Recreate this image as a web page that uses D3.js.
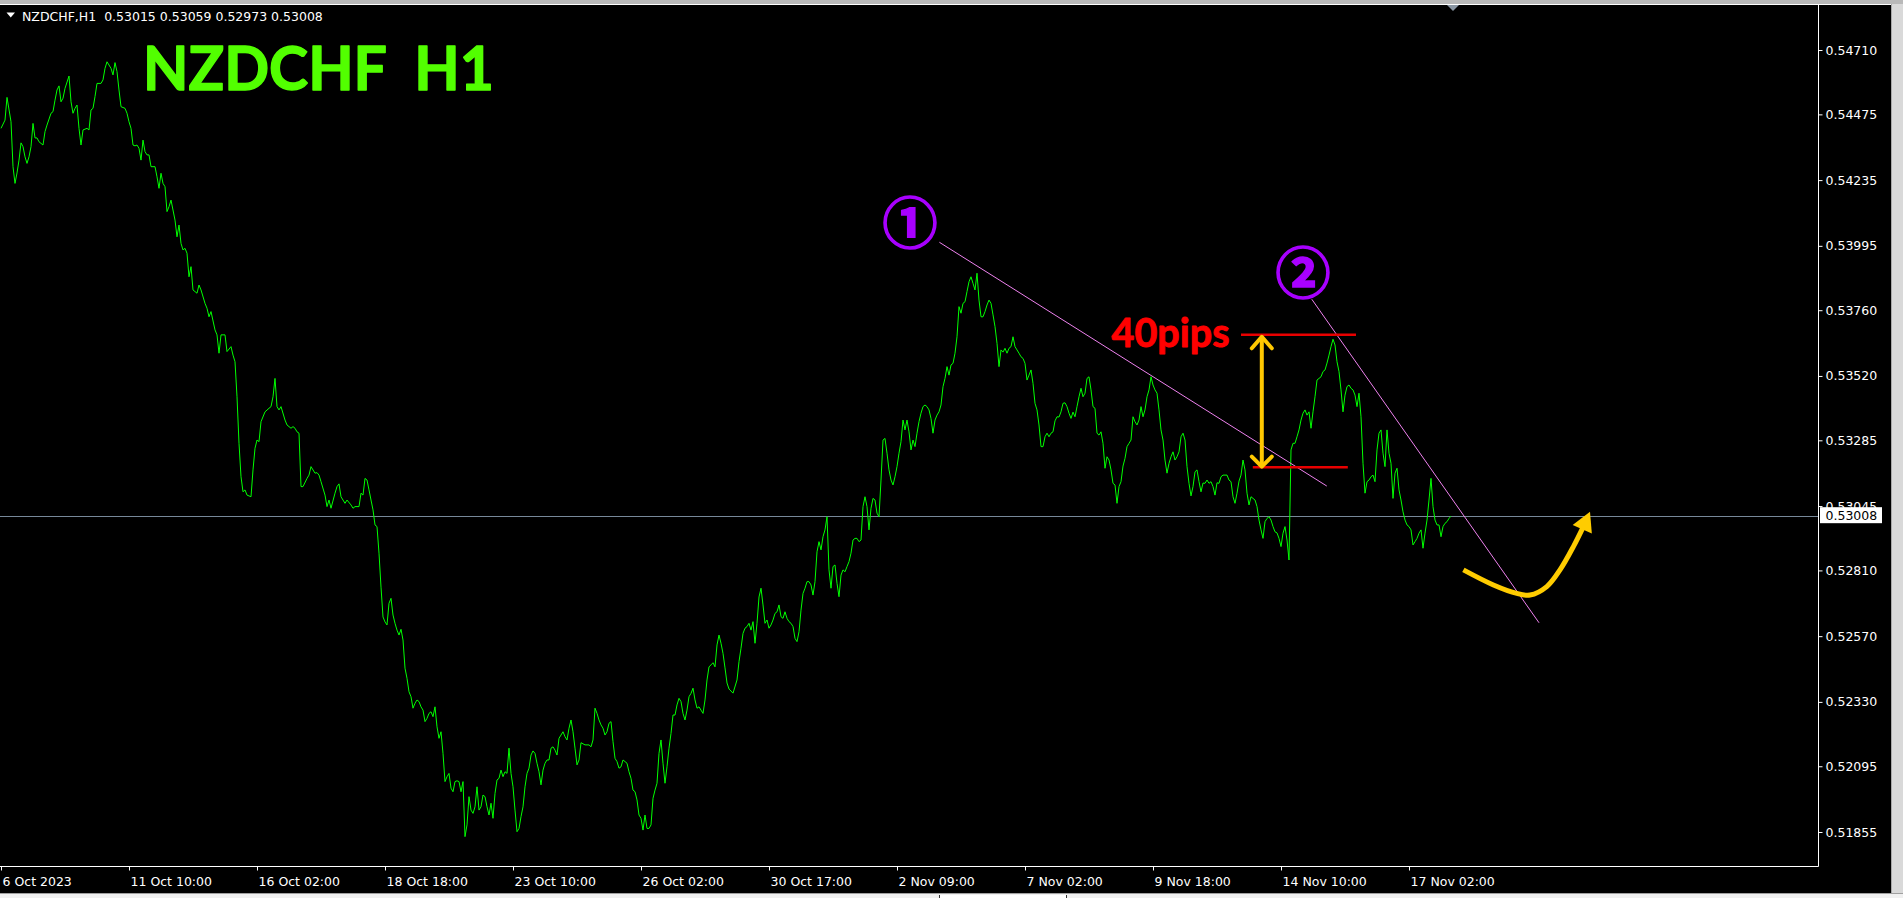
<!DOCTYPE html>
<html><head><meta charset="utf-8">
<script src="https://cdn.jsdelivr.net/npm/d3@7"></script>
<style>
html,body{margin:0;padding:0;background:#f0f0f0;overflow:hidden;}
svg{display:block;}
</style></head><body>
<svg id="chart" width="1903" height="898"></svg>
<script>
// ---------- data ----------
const headerText = "NZDCHF,H1  0.53015 0.53059 0.52973 0.53008";
const titleText = "NZDCHF  H1";
const pipsText = "40pips";
const lastPrice = 0.53008;

const yTicks = [0.54710,0.54475,0.54235,0.53995,0.53760,0.53520,0.53285,0.53045,0.52810,0.52570,0.52330,0.52095,0.51855];
const xTickBars = [0,64,128,192,256,320,384,448,512,576,640,704];
const xTickLabels = ["6 Oct 2023","11 Oct 10:00","16 Oct 02:00","18 Oct 18:00","23 Oct 10:00","26 Oct 02:00","30 Oct 17:00","2 Nov 09:00","7 Nov 02:00","9 Nov 18:00","14 Nov 10:00","17 Nov 02:00"];

// hourly bar index (0 = 6 Oct 18:00) and close price
const bars = [
0,2,3,5,6,7,8,9,10,11,
12,13,14,15,16,17,18,19,21,22,
23,25,26,27,28,29,30,31,32,34,
35,36,37,38,39,40,41,43,44,45,
46,47,48,50,51,52,53,55,56,57,
58,59,60,62,63,64,65,66,67,68,
69,70,71,72,73,74,75,77,78,79,
80,81,82,83,84,85,87,88,89,90,
91,92,93,94,95,96,98,99,100,102,
103,104,105,107,108,109,110,112,113,115,
116,117,118,119,120,121,122,123,125,126,
127,128,129,130,132,134,135,136,137,138,
139,140,142,143,145,146,147,148,149,150,
151,153,154,155,157,158,159,160,162,163,
164,165,167,168,169,170,172,173,175,176,
177,179,
180,181,182,183,184,185,186,187,188,189,
190,191,192,193,194,195,196,197,198,199,
200,201,202,203,204,205,206,207,208,209,
210,211,212,213,214,215,216,217,218,219,
220,221,222,223,224,225,226,227,228,229,
230,231,232,233,234,235,236,237,238,239,
240,241,242,243,244,245,246,247,248,249,
250,251,252,253,254,255,256,257,258,259,
260,261,262,263,264,265,266,267,268,269,
270,271,272,273,274,275,276,277,278,279,
280,281,282,283,284,285,286,287,288,289,
290,
292,293,294,295,296,297,298,299,
300,301,302,303,304,305,306,307,308,309,
310,311,312,313,314,315,316,317,318,319,
320,321,322,323,324,325,326,327,328,329,
330,331,332,333,334,335,336,337,338,339,
340,341,342,343,344,345,346,347,348,349,
350,351,352,353,354,355,356,357,358,359,
360,361,362,363,364,
366,
368,369,
370,371,372,373,374,375,376,377,378,379,
380,381,382,383,384,385,386,387,388,389,
390,391,392,393,394,395,396,397,398,399,
400,401,402,403,404,405,406,407,408,409,
410,411,412,413,414,415,416,417,418,419,
420,421,422,423,424,425,426,427,428,429,
430,431,432,433,434,435,436,437,438,439,
440,441,442,443,444,445,446,447,448,449,
450,451,452,453,454,455,456,457,458,459,
460,461,462,463,464,465,466,467,468,469,
470,471,472,473,474,475,476,477,478,479,
480,481,482,483,484,485,486,487,488,489,
490,491,492,493,494,495,496,497,498,499,
500,501,502,503,504,505,506,507,508,509,
510,511,512,513,514,515,516,517,518,519,
520,521,522,523,524,525,526,527,528,529,
530,531,532,533,534,535,536,537,538,539,
540,541,542,543,544,545,546,547,548,549,
550,551,552,553,554,555,556,557,558,559,
560,561,562,563,564,565,566,567,568,569,
570,571,572,573,574,575,576,577,578,579,
580,581,582,583,584,585,586,587,588,589,
590,591,592,593,594,595,596,597,598,599,
600,601,602,603,604,605,606,607,608,609,
610,611,612,613,614,615,616,617,618,619,
620,621,622,623,624,625,626,627,628,629,
630,631,632,633,634,635,636,637,638,639,
640,641,642,643,644,645,646,647,648,649,
650,651,652,653,654,655,656,657,658,659,
660,661,662,663,664,665,666,667,668,669,
670,671,672,673,674,675,676,677,678,679,
680,681,682,683,684,685,686,687,688,689,
690,691,692,693,694,695,696,697,698,699,
700,701,702,703,704,705,706,707,708,709,
710,711,712,713,714,715,716,717,718,719,
720,721,722,723,724,725
];
const closes = [
0.54424,0.54454,0.54537,0.54448,0.54284,0.54223,0.54261,0.54308,0.54371,0.54357,
0.54320,0.54296,0.54320,0.54357,0.54442,0.54389,0.54389,0.54375,0.54363,0.54412,
0.54436,0.54479,0.54485,0.54527,0.54564,0.54579,0.54521,0.54534,0.54570,0.54615,
0.54521,0.54479,0.54497,0.54509,0.54424,0.54363,0.54418,0.54424,0.54418,0.54491,
0.54497,0.54540,0.54588,0.54588,0.54601,0.54643,0.54667,0.54643,0.54619,0.54664,
0.54631,0.54564,0.54503,0.54497,0.54479,0.54448,0.54424,0.54363,0.54360,0.54363,
0.54351,0.54308,0.54381,0.54339,0.54327,0.54327,0.54284,0.54284,0.54247,0.54205,
0.54260,0.54223,0.54211,0.54120,0.54138,0.54162,0.54089,0.54028,0.54071,0.54004,
0.53980,0.53986,0.53968,0.53882,0.53919,0.53834,0.53822,0.53852,0.53834,0.53785,
0.53767,0.53736,0.53755,0.53688,0.53670,0.53603,0.53670,0.53670,0.53609,0.53627,
0.53596,0.53572,0.53444,0.53274,0.53152,0.53097,0.53104,0.53085,0.53079,0.53177,
0.53256,0.53286,0.53280,0.53353,0.53389,0.53402,0.53408,0.53444,0.53511,0.53408,
0.53396,0.53408,0.53359,0.53341,0.53329,0.53335,0.53329,0.53316,0.53311,0.53116,
0.53116,0.53146,0.53158,0.53189,0.53165,0.53167,0.53158,0.53134,0.53085,0.53043,
0.53067,0.53037,0.53092,0.53116,0.53126,0.53079,0.53055,0.53067,0.53049,0.53037,
0.53043,0.53043,
0.53092,0.53085,0.53146,0.53140,0.53104,0.53067,0.53031,0.52976,0.52970,0.52873,
0.52749,0.52640,0.52622,0.52611,0.52690,0.52708,0.52647,0.52617,0.52592,0.52574,
0.52595,0.52556,0.52453,0.52416,0.52367,0.52349,0.52307,0.52325,0.52337,0.52331,
0.52312,0.52300,0.52258,0.52270,0.52288,0.52294,0.52276,0.52312,0.52239,0.52197,
0.52221,0.52142,0.52039,0.52057,0.52069,0.52015,0.52002,0.52039,0.52042,0.52039,
0.52002,0.52039,0.51838,0.51881,0.51984,0.51935,0.51923,0.51947,0.52020,0.51935,
0.51947,0.51990,0.51984,0.51947,0.51917,0.51960,0.51905,0.51996,0.52045,0.52051,
0.52081,0.52057,0.52075,0.52069,0.52161,0.52069,0.52020,0.51935,0.51856,0.51868,
0.51911,0.51947,0.52020,0.52069,0.52088,0.52136,0.52151,0.52142,0.52106,0.52075,
0.52027,0.52081,0.52106,0.52118,0.52118,0.52161,0.52166,0.52154,0.52136,0.52197,
0.52209,0.52221,0.52203,0.52191,0.52234,0.52264,0.52221,0.52161,0.52100,0.52118,
0.52181,
0.52173,0.52173,0.52173,0.52166,0.52191,0.52307,0.52288,0.52264,
0.52246,0.52234,0.52209,0.52221,0.52252,0.52258,0.52185,0.52124,0.52112,0.52088,
0.52093,0.52118,0.52112,0.52106,0.52075,0.52051,0.52008,0.52002,0.51972,0.51917,
0.51905,0.51862,0.51917,0.51868,0.51868,0.51881,0.51978,0.52008,0.52033,0.52142,
0.52191,0.52106,0.52033,0.52093,0.52161,0.52215,0.52282,0.52282,0.52319,0.52343,
0.52331,0.52288,0.52264,0.52300,0.52349,0.52361,0.52380,0.52337,0.52307,0.52312,
0.52300,0.52288,0.52337,0.52410,0.52458,0.52465,0.52473,0.52458,0.52538,0.52574,
0.52544,0.52507,0.52454,0.52399,0.52377,
0.52362,
0.52410,0.52477,
0.52526,0.52580,0.52599,0.52605,0.52617,0.52592,0.52623,0.52544,0.52617,0.52713,
0.52745,0.52684,0.52617,0.52629,0.52599,0.52611,0.52629,0.52653,0.52659,0.52684,
0.52641,0.52635,0.52659,0.52635,0.52623,0.52617,0.52605,0.52562,0.52550,0.52586,
0.52665,0.52726,0.52745,0.52769,0.52769,0.52757,0.52720,0.52769,0.52878,0.52915,
0.52885,0.52933,0.52958,0.53006,0.52812,0.52745,0.52824,0.52830,0.52763,0.52714,
0.52793,0.52812,0.52805,0.52824,0.52842,0.52873,0.52921,0.52927,0.52927,0.52915,
0.52921,0.53043,0.53079,0.53043,0.52958,0.53037,0.53073,0.53067,0.53019,0.53006,
0.53140,0.53286,0.53292,0.53238,0.53177,0.53140,0.53122,0.53152,0.53189,0.53238,
0.53280,0.53359,0.53323,0.53359,0.53316,0.53250,0.53286,0.53262,0.53311,0.53353,
0.53384,0.53408,0.53414,0.53408,0.53396,0.53365,0.53311,0.53359,0.53377,0.53389,
0.53414,0.53481,0.53511,0.53554,0.53523,0.53560,0.53566,0.53603,0.53663,0.53773,
0.53749,0.53785,0.53791,0.53828,0.53864,0.53882,0.53858,0.53834,0.53895,0.53797,
0.53736,0.53736,0.53755,0.53779,0.53797,0.53785,0.53743,0.53700,0.53639,0.53554,
0.53615,0.53607,0.53621,0.53603,0.53621,0.53627,0.53663,0.53627,0.53615,0.53603,
0.53590,0.53584,0.53566,0.53505,0.53523,0.53542,0.53493,0.53420,0.53396,0.53341,
0.53262,0.53262,0.53298,0.53311,0.53298,0.53311,0.53316,0.53356,0.53371,0.53370,
0.53389,0.53420,0.53422,0.53408,0.53384,0.53365,0.53388,0.53371,0.53408,0.53444,
0.53475,0.53444,0.53457,0.53511,0.53517,0.53469,0.53408,0.53402,0.53311,0.53304,
0.53316,0.53274,0.53183,0.53225,0.53213,0.53177,0.53128,0.53122,0.53055,0.53116,
0.53134,0.53191,0.53219,0.53262,0.53274,0.53286,0.53371,0.53353,0.53341,0.53359,
0.53408,0.53371,0.53396,0.53444,0.53469,0.53517,0.53487,0.53469,0.53457,0.53396,
0.53323,0.53286,0.53213,0.53165,0.53201,0.53225,0.53243,0.53213,0.53225,0.53243,
0.53298,0.53311,0.53286,0.53189,0.53128,0.53082,0.53116,0.53170,0.53177,0.53134,
0.53097,0.53129,0.53128,0.53140,0.53128,0.53134,0.53116,0.53085,0.53130,0.53128,
0.53152,0.53158,0.53158,0.53158,0.53140,0.53134,0.53079,0.53055,0.53092,0.53136,
0.53158,0.53213,0.53177,0.53092,0.53049,0.53079,0.53073,0.53067,0.53043,0.52994,
0.52958,0.52927,0.52988,0.53000,0.53006,0.52994,0.52970,0.52951,0.52947,0.52927,
0.52897,0.52946,0.52970,0.52921,0.52848,0.53250,0.53274,0.53274,0.53298,0.53323,
0.53359,0.53384,0.53396,0.53377,0.53389,0.53329,0.53389,0.53444,0.53505,0.53511,
0.53517,0.53536,0.53542,0.53567,0.53596,0.53627,0.53654,0.53633,0.53572,0.53536,
0.53469,0.53389,0.53450,0.53481,0.53487,0.53475,0.53469,0.53450,0.53408,0.53457,
0.53371,0.53201,0.53092,0.53134,0.53140,0.53152,0.53158,0.53134,0.53250,0.53311,
0.53323,0.53238,0.53189,0.53323,0.53238,0.53201,0.53073,0.53165,0.53183,0.53104,
0.53067,0.53024,0.52994,0.52976,0.52970,0.52958,0.52903,0.52915,0.52927,0.52946,
0.52958,0.52891,0.52946,0.52994,0.53067,0.53146,0.53043,0.52994,0.52976,0.52976,
0.52933,0.52970,0.52982,0.52988,0.53000,0.53008
];

// annotations (bar index, price)
const trend1Bars = [469.2, 662.9];
const trend1Prices = [0.54008, 0.53118];
const trend2Bars = [655.4, 769.0];
const trend2Prices = [0.53800, 0.52619];
const redLevels = [0.53670, 0.53187];
const redStartBars = [620.0, 625.9];
const redEndBars = [677.5, 673.4];
const rangeArrowBar = 630.4;
const rangeArrowPrices = [0.53663, 0.53189];
const forecastBars = [731.2, 746.2, 757.9, 764.5, 772.9, 779.5, 786.2, 791.2];
const forecastPrices = [0.52812, 0.52757, 0.52726, 0.52720, 0.52751, 0.52812, 0.52897, 0.52970];
const forecastTip = [794.5, 0.53024];
const circleLabels = ["\u2460", "\u2461"];
const circleBars = [454.5, 651.0];
const circlePrices = [0.54093, 0.53910];

if (bars.length !== closes.length) console.error("length mismatch", bars.length, closes.length);

// ---------- drawing ----------
const W = 1903, H = 898;
const svg = d3.select("#chart");
const x = d3.scaleLinear().domain([0, 704]).range([1, 1409]);
const y = d3.scaleLinear().domain([0.51855, 0.54710]).range([832, 50]);
const FONT = "'DejaVu Sans', Tahoma, sans-serif";

// window chrome
svg.append("rect").attr("width", W).attr("height", H).attr("fill", "#f0f0f0");
svg.append("rect").attr("x", 0).attr("y", 0).attr("width", W).attr("height", 4).attr("fill", "#b9b9b9");
svg.append("rect").attr("x", 0).attr("y", 4).attr("width", 1891).attr("height", 889).attr("fill", "#000");
svg.append("rect").attr("x", 1891).attr("y", 4).attr("width", 12).attr("height", 889).attr("fill", "#d9d9d9");
svg.append("line").attr("x1", 1891.5).attr("x2", 1891.5).attr("y1", 4).attr("y2", 893).attr("stroke", "#a8a8a8");
svg.append("line").attr("x1", 0).attr("x2", W).attr("y1", 893.5).attr("y2", 893.5).attr("stroke", "#a0a0a0");
svg.append("rect").attr("x", 940).attr("y", 895).attr("width", 126).attr("height", 3).attr("fill", "#ffffff");
svg.append("line").attr("x1", 939.5).attr("x2", 939.5).attr("y1", 895).attr("y2", 898).attr("stroke", "#333");
svg.append("line").attr("x1", 1066.5).attr("x2", 1066.5).attr("y1", 895).attr("y2", 898).attr("stroke", "#333");

// frame
svg.append("line").attr("x1", 0).attr("x2", 1891).attr("y1", 4.5).attr("y2", 4.5).attr("stroke", "#fff");
svg.append("line").attr("x1", 1818.5).attr("x2", 1818.5).attr("y1", 4.5).attr("y2", 866.5).attr("stroke", "#fff");
svg.append("line").attr("x1", 0).attr("x2", 1818.5).attr("y1", 866.5).attr("y2", 866.5).attr("stroke", "#fff");

svg.append("defs").append("clipPath").attr("id", "plotclip")
  .append("rect").attr("x", 0).attr("y", 5).attr("width", 1818).attr("height", 861);
const plot = svg.append("g").attr("clip-path", "url(#plotclip)");

// current price line
const yLast = Math.floor(y(lastPrice)) + 0.5;
plot.append("line").attr("x1", 0).attr("x2", 1818).attr("y1", yLast).attr("y2", yLast)
  .attr("stroke", "#778899").attr("stroke-width", 1);

// price line
const series = bars.map((b, i) => [b, closes[i]]);
plot.append("path").datum(series)
  .attr("fill", "none").attr("stroke", "#00ff00").attr("stroke-width", 1)
  .attr("d", d3.line().x(d => x(d[0])).y(d => y(d[1])));

// trend lines
[[trend1Bars, trend1Prices], [trend2Bars, trend2Prices]].forEach(([bs, ps]) => {
  plot.append("line")
    .attr("x1", x(bs[0])).attr("y1", y(ps[0])).attr("x2", x(bs[1])).attr("y2", y(ps[1]))
    .attr("stroke", "#ee82ee").attr("stroke-width", 1);
});

// red range levels
redLevels.forEach((p, i) => {
  plot.append("line")
    .attr("x1", x(redStartBars[i])).attr("x2", x(redEndBars[i]))
    .attr("y1", y(p)).attr("y2", y(p))
    .attr("stroke", "#e80000").attr("stroke-width", 2.5);
});

// yellow double arrow
const ax = x(rangeArrowBar), ay1 = y(rangeArrowPrices[0]), ay2 = y(rangeArrowPrices[1]);
const gold = "#ffc800";
plot.append("line").attr("x1", ax).attr("x2", ax).attr("y1", ay1 + 1).attr("y2", ay2 - 1)
  .attr("stroke", gold).attr("stroke-width", 4).attr("stroke-linecap", "round");
plot.append("polyline").attr("points", `${ax-10},${ay1+11.5} ${ax},${ay1} ${ax+10},${ay1+11.5}`)
  .attr("fill", "none").attr("stroke", gold).attr("stroke-width", 4)
  .attr("stroke-linecap", "round").attr("stroke-linejoin", "round");
plot.append("polyline").attr("points", `${ax-10},${ay2-10} ${ax},${ay2} ${ax+10},${ay2-10}`)
  .attr("fill", "none").attr("stroke", gold).attr("stroke-width", 4)
  .attr("stroke-linecap", "round").attr("stroke-linejoin", "round");

// forecast curved arrow
const fpts = forecastBars.map((b, i) => [x(b), y(forecastPrices[i])]);
plot.append("path").datum(fpts)
  .attr("fill", "none").attr("stroke", "#ffcc00").attr("stroke-width", 5)
  .attr("stroke-linecap", "butt")
  .attr("d", d3.line().curve(d3.curveCatmullRom.alpha(0.5)));
const tip = [x(forecastTip[0]), y(forecastTip[1])];
const base = fpts[fpts.length - 1];
const dx = tip[0] - base[0], dy = tip[1] - base[1];
const len = Math.hypot(dx, dy);
const nx = -dy / len, ny = dx / len;
const hw = 10.5;
const bx = tip[0] - dx / len * 19, by = tip[1] - dy / len * 19;
plot.append("polygon")
  .attr("points", `${tip[0]},${tip[1]} ${bx + nx*hw},${by + ny*hw} ${bx - nx*hw},${by - ny*hw}`)
  .attr("fill", "#ffcc00");

// ---------- axes ----------
const gy = svg.append("g").attr("transform", "translate(1818.5,0)")
  .call(d3.axisRight(y).tickValues(yTicks).tickSize(4).tickPadding(3).tickFormat(d3.format(".5f")));
gy.attr("font-family", FONT).attr("font-size", 12.5);
gy.select(".domain").remove();
gy.selectAll(".tick line").attr("stroke", "#fff");
gy.selectAll(".tick text").attr("fill", "#fff");

const gx = svg.append("g").attr("transform", "translate(0,866.5)")
  .call(d3.axisBottom(x).tickValues(xTickBars).tickSize(4).tickFormat((d, i) => xTickLabels[i]));
gx.attr("font-family", FONT).attr("font-size", 12.5);
gx.select(".domain").remove();
gx.selectAll(".tick line").attr("stroke", "#fff");
gx.selectAll(".tick text").attr("fill", "#fff").attr("text-anchor", "start")
  .attr("x", 1).attr("y", 19).attr("dy", 0);

// current price label box (covers the lower half of the neighbouring tick label, as in MT4)
const ly = y(lastPrice);
svg.append("rect").attr("x", 1820).attr("y", ly - 9).attr("width", 62).attr("height", 16).attr("fill", "#fff");
svg.append("text").attr("x", 1825.5).attr("y", ly + 4)
  .attr("font-family", FONT).attr("font-size", 12.5).attr("fill", "#000")
  .text(d3.format(".5f")(lastPrice));

// chart shift marker
svg.append("polygon").attr("points", "1447,5 1459,5 1453,11").attr("fill", "#8a96a3");

// header
svg.append("polygon").attr("points", "6.5,12.5 15,12.5 10.75,17.5").attr("fill", "#fff");
svg.append("text").attr("x", 22).attr("y", 20.5)
  .attr("font-family", FONT).attr("font-size", 12.5).attr("fill", "#fff")
  .style("white-space", "pre").text(headerText);

// big title
svg.append("text").attr("x", 143).attr("y", 90)
  .attr("font-family", "Lato, 'Open Sans', sans-serif").attr("font-weight", "bold")
  .attr("font-size", 62).attr("fill", "#52ff00")
  .attr("stroke", "#52ff00").attr("stroke-width", 1.4).attr("stroke-linejoin", "round")
  .attr("textLength", 351).attr("lengthAdjust", "spacingAndGlyphs")
  .style("white-space", "pre").text(titleText);

// 40pips
svg.append("text").attr("x", 1111.5).attr("y", 346.7)
  .attr("font-family", "Lato, 'Open Sans', sans-serif").attr("font-weight", "bold")
  .attr("font-size", 40).attr("fill", "#ff0000")
  .attr("stroke", "#ff0000").attr("stroke-width", 0.9).attr("stroke-linejoin", "round")
  .attr("textLength", 118).attr("lengthAdjust", "spacingAndGlyphs")
  .text(pipsText);

// circled numbers
circleLabels.forEach((t, i) => {
  svg.append("text").attr("x", x(circleBars[i])).attr("y", y(circlePrices[i]))
    .attr("text-anchor", "middle").attr("dominant-baseline", "central")
    .attr("font-family", "'Noto Sans CJK JP', 'DejaVu Sans', sans-serif").attr("font-weight", "bold")
    .attr("font-size", 55).attr("fill", "#a800ff")
    .attr("stroke", "#a800ff").attr("stroke-width", 1.6)
    .text(t);
});
</script>
</body></html>
